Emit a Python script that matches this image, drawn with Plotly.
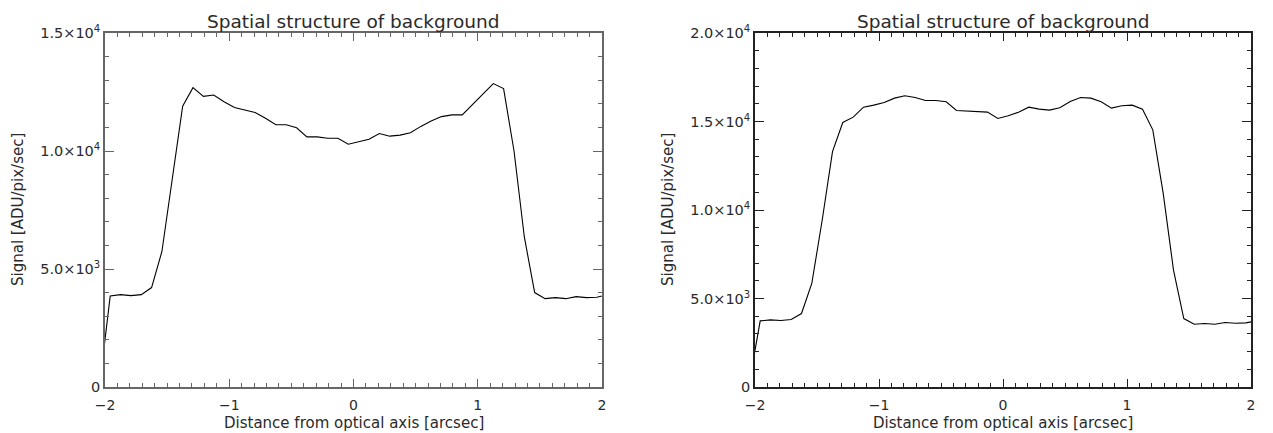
import plotly.graph_objects as go

# Sample positions [arcsec] (first/last points lie just outside the plotted range)
distance = [-2.042, -1.958, -1.875, -1.792, -1.708, -1.625, -1.542, -1.458, -1.375, -1.292,
            -1.208, -1.125, -1.042, -0.958, -0.875, -0.792, -0.708, -0.625, -0.542, -0.458,
            -0.375, -0.292, -0.208, -0.125, -0.042, 0.042, 0.125, 0.208, 0.292, 0.375,
            0.458, 0.542, 0.625, 0.708, 0.792, 0.875, 0.958, 1.042, 1.125, 1.208,
            1.292, 1.375, 1.458, 1.542, 1.625, 1.708, 1.792, 1.875, 1.958, 2.042]

signal_left = [150, 3857, 3914, 3871, 3914, 4214, 5743, 8800, 11900, 12686,
               12314, 12371, 12086, 11843, 11729, 11629, 11386, 11114, 11114, 10986,
               10600, 10600, 10543, 10543, 10286, 10386, 10500, 10743, 10629, 10671,
               10771, 11043, 11271, 11457, 11529, 11529, 11957, 12400, 12857, 12643,
               10000, 6357, 4000, 3743, 3786, 3743, 3829, 3786, 3800, 3910]

signal_right = [414, 3736, 3792, 3755, 3811, 4151, 5849, 9434, 13302, 14943,
                15245, 15811, 15925, 16075, 16321, 16453, 16358, 16189, 16189, 16113,
                15623, 15585, 15528, 15528, 15170, 15321, 15528, 15811, 15698, 15642,
                15774, 16132, 16358, 16321, 16113, 15755, 15887, 15925, 15698, 14528,
                10943, 6604, 3868, 3547, 3585, 3547, 3642, 3604, 3623, 3735]

x_ticks = [-2, -1, 0, 1, 2]
x_tick_text = ["\u22122", "\u22121", "0", "1", "2"]
y_ticks_left = [0, 5000, 10000, 15000]
y_ticks_right = [0, 5000, 10000, 15000, 20000]
y_tick_text = ["0", "5.0\u00d710<sup>3</sup>", "1.0\u00d710<sup>4</sup>",
               "1.5\u00d710<sup>4</sup>", "2.0\u00d710<sup>4</sup>"]

title_text = "Spatial structure of background"
x_title = "Distance from optical axis [arcsec]"
y_title = "Signal [ADU/pix/sec]"

# page body has an 8px margin; figure positions are given in window pixels minus 8
OFF = 8
W, H = 1273 - OFF, 433 - OFF
FONT = "DejaVu Sans"
TXT = "#2a2a2a"


def px_x(p):
    return (p - OFF) / W


def px_y(p):
    return 1 - (p - OFF) / H


dom_x1 = [px_x(105), px_x(602)]
dom_x2 = [px_x(755), px_x(1251)]
dom_y = [px_y(387), px_y(33)]

fig = go.Figure()
fig.add_trace(go.Scatter(x=distance, y=signal_left, mode="lines",
                         line=dict(color="black", width=1.1), xaxis="x", yaxis="y",
                         showlegend=False))
fig.add_trace(go.Scatter(x=distance, y=signal_right, mode="lines",
                         line=dict(color="black", width=1.1), xaxis="x2", yaxis="y2",
                         showlegend=False))


def xax(domain, anchor, color):
    return dict(domain=domain, anchor=anchor, range=[-2, 2], tickmode="array",
                tickvals=x_ticks, ticktext=x_tick_text, ticks="inside", ticklen=8,
                tickwidth=1, tickcolor=color, showline=True, linecolor=color,
                linewidth=1.6, mirror="allticks", showgrid=False, zeroline=False,
                automargin=False, ticklabelstandoff=4,
                tickfont=dict(family=FONT, size=14, color=TXT),
                minor=dict(dtick=0.1, tick0=0, ticks="inside", ticklen=4,
                           tickcolor=color, tickwidth=1, showgrid=False))


def yax(domain, anchor, rmax, tickvals, color):
    return dict(domain=domain, anchor=anchor, range=[0, rmax], tickmode="array",
                tickvals=tickvals, ticktext=y_tick_text[:len(tickvals)],
                ticks="inside", ticklen=9, tickwidth=1, tickcolor=color,
                showline=True, linecolor=color, linewidth=1.6, mirror="allticks",
                showgrid=False, zeroline=False, automargin=False,
                tickfont=dict(family=FONT, size=14.5, color=TXT),
                minor=dict(dtick=1000, tick0=0, ticks="inside", ticklen=4,
                           tickcolor=color, tickwidth=1, showgrid=False))


annotations = []
for dx, ytx in [(dom_x1, 18), (dom_x2, 668)]:
    cx = (dx[0] + dx[1]) / 2
    annotations.append(dict(text=title_text, x=cx, y=px_y(21), xref="paper",
                            yref="paper", showarrow=False, xanchor="center",
                            yanchor="middle", font=dict(family=FONT, size=18.5, color=TXT)))
    annotations.append(dict(text=x_title, x=cx, y=px_y(423), xref="paper",
                            yref="paper", showarrow=False, xanchor="center",
                            yanchor="middle", font=dict(family=FONT, size=15, color=TXT)))
    annotations.append(dict(text=y_title, x=px_x(ytx), y=(dom_y[0] + dom_y[1]) / 2,
                            xref="paper", yref="paper", showarrow=False, textangle=-90,
                            xanchor="center", yanchor="middle",
                            font=dict(family=FONT, size=15, color=TXT)))

fig.update_layout(
    template="none",
    width=W, height=H, margin=dict(l=0, r=0, t=0, b=0, autoexpand=False),
    paper_bgcolor="white", plot_bgcolor="white",
    xaxis=xax(dom_x1, "y", "#666666"),
    yaxis=yax(dom_y, "x", 15000, y_ticks_left, "#666666"),
    xaxis2=xax(dom_x2, "y2", "#222222"),
    yaxis2=yax(dom_y, "x2", 20000, y_ticks_right, "#222222"),
    annotations=annotations,
)

fig.write_html("out.html")
